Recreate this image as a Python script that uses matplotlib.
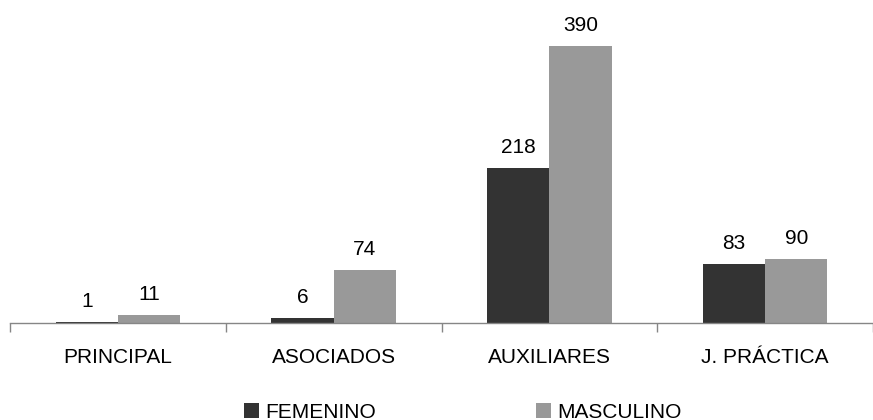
import matplotlib
matplotlib.use("Agg")
import matplotlib.pyplot as plt
import numpy as np

categories = ["PRINCIPAL", "ASOCIADOS", "AUXILIARES", "J. PRÁCTICA"]
femenino = [1, 6, 218, 83]
masculino = [11, 74, 390, 90]
series_names = ["FEMENINO", "MASCULINO"]

plt.rcParams['font.family'] = ['Liberation Sans', 'DejaVu Sans']
FS = 15

W, H = 873, 420
fig = plt.figure(figsize=(W / 100, H / 100), dpi=100)
ax_left = 10 / W
ax_bottom = (H - 322.7) / H
ax_height = 319.3 / H
ax = fig.add_axes([ax_left, ax_bottom, 1 - ax_left, ax_height])

x = np.arange(len(categories))
bw = 63 / 218
b1 = ax.bar(x - bw / 2, femenino, bw, color="#333333", label=series_names[0])
b2 = ax.bar(x + bw / 2, masculino, bw, color="#999999", label=series_names[1])

for bars, vals in ((b1, femenino), (b2, masculino)):
    for r, v in zip(bars, vals):
        ax.annotate(str(v), (r.get_x() + r.get_width() / 2, r.get_height()),
                    xytext=(0, 11), textcoords="offset points",
                    ha="center", va="baseline", fontsize=FS, color="#000000")

ax.set_xlim(-0.5, -0.5 + (W - 10) / 218)
ax.set_ylim(0, 450)

for s in ("top", "right", "left"):
    ax.spines[s].set_visible(False)
ax.spines["bottom"].set_color("#868686")
ax.spines["bottom"].set_linewidth(1.0)
ax.set_yticks([])

ax.set_xticks(np.arange(len(categories) + 1) - 0.5)
ax.set_xticklabels([])
ax.tick_params(axis="x", which="major", length=6.5, width=1.0, color="#868686", direction="out")
ax.set_xticks(x, minor=True)
ax.set_xticklabels(categories, minor=True, fontsize=FS)
ax.tick_params(axis="x", which="minor", length=0, pad=18)

fig.legend(handles=[b1, b2], loc="center", bbox_to_anchor=(0.530, 8.0 / H),
           ncol=2, frameon=False, fontsize=FS, handlelength=0.72, handleheight=0.72,
           handletextpad=0.29, columnspacing=7.7, borderpad=0, borderaxespad=0)

fig.savefig("out.png", dpi=100)
